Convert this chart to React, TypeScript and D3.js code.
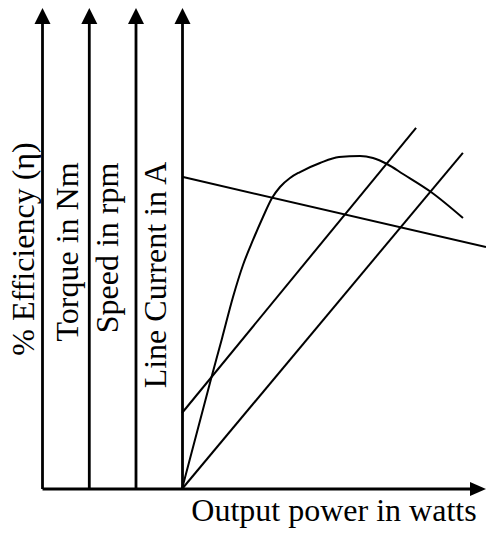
import React from "react";
import * as d3 from "d3";

// Output power (%) vs quantity (%) — schematic performance characteristics
const speedX = [0, 100];
const speedY = [64.9, 50.3];
const currentX = [0, 77.0];
const currentY = [15.8, 75.1];
const torqueX = [0, 92.4];
const torqueY = [0, 69.9];
const effX = [0, 9.54, 13.16, 16.78, 20.07, 23.36, 26.64, 29.61, 32.24, 35.53, 38.82, 45.39, 51.64, 58.55, 62.83, 67.43, 72.7, 81.91, 92.43];
const effY = [0, 22.87, 31.31, 39.92, 46.57, 51.77, 56.55, 60.5, 62.79, 64.66, 65.9, 67.78, 69.02, 69.23, 68.81, 67.57, 65.49, 61.75, 56.34];

const axisLabels = ["% Efficiency (\u03b7)", "Torque in Nm", "Speed in rpm", "Line Current in A"];
const xLabel = "Output power in watts";

const W = 486;
const H = 539;

export default function App() {
  const x = d3.scaleLinear().domain([0, 100]).range([182, 486]);
  const y = d3.scaleLinear().domain([0, 100]).range([489, 8]);

  const axisXs = [42.5, 89.3, 136, 182.5];
  const labelBase = [34, 78, 118, 166];
  const labelCy = [249, 252, 248, 275];

  const line = d3.line<[number, number]>().x((d) => x(d[0])).y((d) => y(d[1]));
  const curve = d3
    .line<[number, number]>()
    .x((d) => x(d[0]))
    .y((d) => y(d[1]))
    .curve(d3.curveMonotoneX);

  const pts = (xs: number[], ys: number[]) => xs.map((v, i) => [v, ys[i]] as [number, number]);

  const y0 = y(0);
  const yTop = y(100);
  const font = "'Liberation Serif', 'Times New Roman', serif";

  return (
    <svg
      width={W}
      height={H}
      style={{ position: "absolute", left: 0, top: 0, background: "#fff" }}
    >
      {/* vertical axes with arrows */}
      {axisXs.map((ax, i) => (
        <g key={i}>
          <line x1={ax} x2={ax} y1={y0} y2={yTop + 15} stroke="#000" strokeWidth={2.8} />
          <path
            d={`M${ax},${yTop} L${ax - 8},${yTop + 16} L${ax + 8},${yTop + 16} Z`}
            fill="#000"
          />
          <text
            transform={`translate(${labelBase[i]},${labelCy[i]}) rotate(-90)`}
            textAnchor="middle"
            fontFamily={font}
            fontSize={32}
            fill="#000"
          >
            {axisLabels[i]}
          </text>
        </g>
      ))}
      {/* horizontal axis */}
      <line x1={axisXs[0]} x2={470} y1={y0} y2={y0} stroke="#000" strokeWidth={2.8} />
      <path d={`M486,${y0} L470,${y0 - 7} L470,${y0 + 7} Z`} fill="#000" />
      <text x={334} y={521} textAnchor="middle" fontFamily={font} fontSize={32} fill="#000">
        {xLabel}
      </text>

      {/* characteristic curves */}
      <path d={line(pts(speedX, speedY)) || ""} fill="none" stroke="#000" strokeWidth={2} />
      <path d={line(pts(currentX, currentY)) || ""} fill="none" stroke="#000" strokeWidth={2} />
      <path d={line(pts(torqueX, torqueY)) || ""} fill="none" stroke="#000" strokeWidth={2} />
      <path d={curve(pts(effX, effY)) || ""} fill="none" stroke="#000" strokeWidth={2} />
    </svg>
  );
}
